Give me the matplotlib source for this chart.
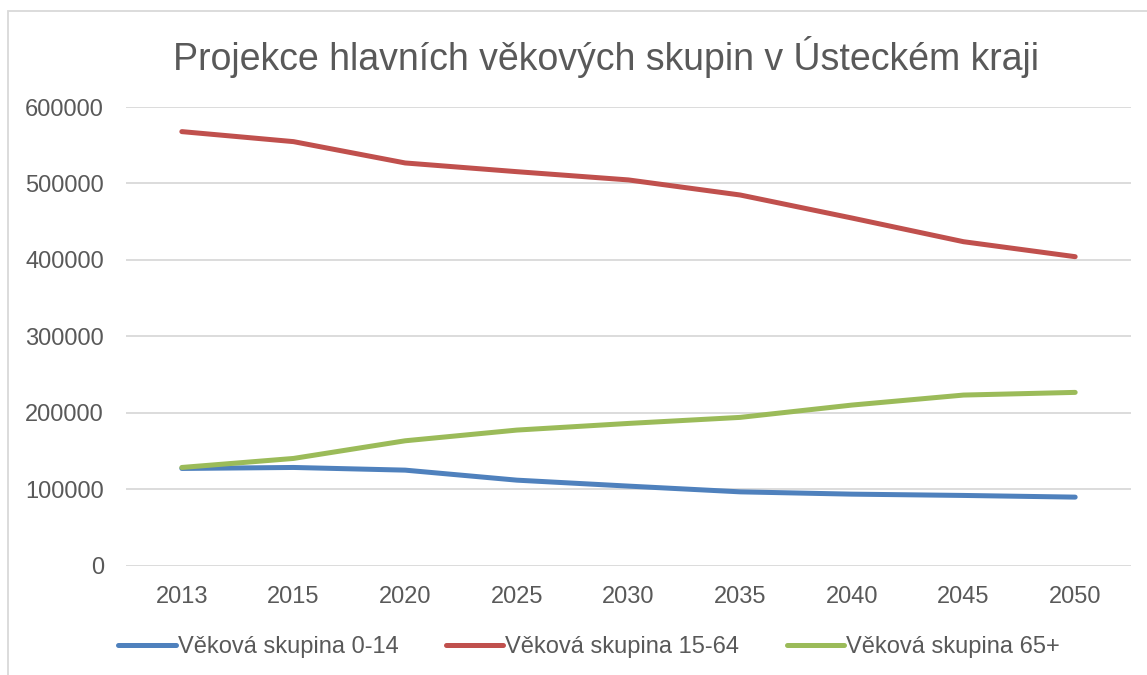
import matplotlib.pyplot as plt
from matplotlib.patches import Rectangle

plt.rcParams['font.family'] = ['Liberation Sans', 'DejaVu Sans']

years = ['2013', '2015', '2020', '2025', '2030', '2035', '2040', '2045', '2050']
group_0_14 = [127200, 128500, 125000, 111900, 104100, 96600, 93600, 91900, 89700]
group_15_64 = [567800, 554700, 526800, 515400, 504600, 484900, 454800, 423800, 404200]
group_65 = [128500, 140300, 163400, 177400, 186100, 194000, 210100, 223200, 226700]

labels = ['Věková skupina 0-14', 'Věková skupina 15-64', 'Věková skupina 65+']
colors = ['#4f81bd', '#c0504d', '#9bbb59']
text_color = '#595959'

fig = plt.figure(figsize=(11.47, 6.75), dpi=100)
ax = fig.add_axes([126 / 1147, 1 - 565.7 / 675, (1131 - 126) / 1147, (565.7 - 107) / 675])

x = list(range(len(years)))
for vals, lab, col in zip([group_0_14, group_15_64, group_65], labels, colors):
    ax.plot(x, vals, color=col, linewidth=3.6, label=lab,
            solid_capstyle='round', solid_joinstyle='round')

ax.set_xlim(-0.5, len(years) - 0.5)
ax.set_ylim(0, 600000)
ax.set_yticks(range(0, 600001, 100000))
ax.set_xticks(x)
ax.set_xticklabels(years)
ax.grid(axis='y', color='#d9d9d9', linewidth=1.3)
ax.set_axisbelow(True)
for s in ax.spines.values():
    s.set_visible(False)
ax.tick_params(length=0, labelsize=17, colors=text_color)
ax.tick_params(axis='y', pad=16)
ax.tick_params(axis='x', pad=14.5)

fig.text(0.5 * (175 + 1037) / 1147, 1 - 57 / 675,
         'Projekce hlavních věkových skupin v Ústeckém kraji',
         ha='center', va='center', fontsize=27, color=text_color)

leg = ax.legend(loc='center', bbox_to_anchor=(589 / 1147, 1 - 647 / 675),
                bbox_transform=fig.transFigure, ncol=3, frameon=False,
                fontsize=17, handlelength=2.45, handletextpad=0.08,
                columnspacing=2.0, labelcolor=text_color)

# chart border
fig.patches.append(Rectangle((8 / 1147, -0.05), 1.2, 1 - 11 / 675 + 0.05,
                             transform=fig.transFigure, fill=False,
                             edgecolor='#d9d9d9', linewidth=1.3))

fig.savefig('out.png', dpi=100)
